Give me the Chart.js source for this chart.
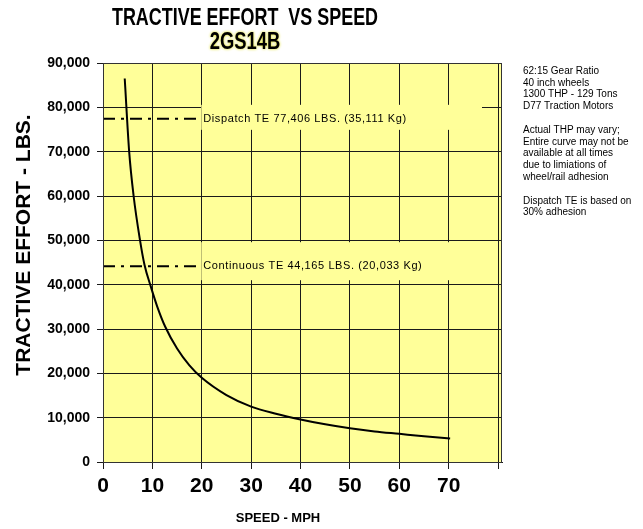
<!DOCTYPE html>
<html>
<head>
<meta charset="utf-8">
<script src="https://cdn.jsdelivr.net/npm/chart.js@4/dist/chart.umd.min.js"></script>
<style>
  html, body { margin: 0; padding: 0; background: #fff; }
  #chart { display: block; }
</style>
</head>
<body>
<canvas id="chart" width="643" height="529"></canvas>
<script>
// Curve (speed in mph, tractive effort in lbs)
const speedMph = [4.4, 5.3, 6.2, 7.5, 8.4, 9.7, 11, 12.6, 15, 17.5, 20, 25, 30, 35, 40, 45, 50, 55, 60, 65, 70.3];
const tractiveLbs = [86500, 70000, 60000, 50000, 44500, 39500, 35000, 30500, 25600, 21800, 19000, 15100, 12500, 10900, 9600, 8500, 7600, 6900, 6350, 5800, 5300];

// Reference levels
const refLevels = [77406, 44165];
const refLabels = ['Dispatch TE 77,406 LBS. (35,111 Kg)', 'Continuous TE 44,165 LBS. (20,033 Kg)'];
const refLineSpan = [0, 19.7];

// Axis ticks
const xTicks = [0, 10, 20, 30, 40, 50, 60, 70, 80];
const yStep = 10000;

const titleMain = 'TRACTIVE EFFORT  VS SPEED';
const titleSub = '2GS14B';
const yTitle = 'TRACTIVE EFFORT - LBS.';
const xTitle = 'SPEED - MPH';
const notes = [
    '62:15 Gear Ratio', '40 inch wheels', '1300 THP - 129 Tons', 'D77 Traction Motors', '',
    'Actual THP may vary;', 'Entire curve may not be', 'available at all times', 'due to limiations of', 'wheel/rail adhesion', '',
    'Dispatch TE is based on', '30% adhesion'
];

const FONT = '"Liberation Sans", Arial, sans-serif';
const GRID = '#1a1a1a';
const PLOT_BG = '#ffff99';

// label boxes hide the grid behind the reference labels (top/bottom offsets from the line)
const boxOffsets = [[-14, 11], [-24, 14]];

const decor = {
    id: 'decor',
    beforeDraw(chart) {
        const { ctx, chartArea: a } = chart;
        ctx.save();
        ctx.fillStyle = PLOT_BG;
        ctx.fillRect(a.left, a.top, a.right - a.left, a.bottom - a.top);
        ctx.restore();
    },
    beforeDatasetsDraw(chart) {
        const { ctx, scales } = chart;
        ctx.save();
        ctx.fillStyle = PLOT_BG;
        refLevels.forEach((lv, i) => {
            const y = scales.y.getPixelForValue(lv);
            const x0 = scales.x.getPixelForValue(refLineSpan[1]) + 1;
            ctx.fillRect(x0, y + boxOffsets[i][0], 482 - x0, boxOffsets[i][1] - boxOffsets[i][0]);
        });
        ctx.restore();
    },
    afterDatasetsDraw(chart) {
        const { ctx, scales } = chart;
        ctx.save();
        ctx.fillStyle = '#000';
        ctx.font = '11px ' + FONT;
        ctx.letterSpacing = '0.6px';
        ctx.textBaseline = 'middle';
        refLevels.forEach((lv, i) => {
            const y = scales.y.getPixelForValue(lv);
            const x = scales.x.getPixelForValue(refLineSpan[1]) + 3;
            ctx.fillText(refLabels[i], x, y);
        });
        ctx.restore();
    },
    afterDraw(chart) {
        const { ctx, chartArea: a } = chart;
        ctx.save();
        // plot frame
        ctx.strokeStyle = '#333';
        ctx.lineWidth = 1;
        ctx.strokeRect(a.left + 0.5, a.top + 0.5, a.right - a.left - 1, a.bottom - a.top);

        // main title (condensed bold)
        ctx.fillStyle = '#000';
        ctx.textAlign = 'center';
        ctx.textBaseline = 'middle';
        ctx.font = 'bold 23px ' + FONT;
        ctx.save();
        ctx.translate(245, 19);
        ctx.scale(0.78, 1);
        ctx.fillText(titleMain, 0, 0);
        ctx.restore();

        ctx.save();
        ctx.translate(245, 43);
        ctx.scale(0.8, 1);
        ctx.shadowColor = '#d8d800';
        ctx.shadowBlur = 3;
        ctx.fillText(titleSub, 0, 0);
        ctx.restore();

        // y axis title
        ctx.save();
        ctx.translate(24, 245);
        ctx.rotate(-Math.PI / 2);
        ctx.font = 'bold 21px ' + FONT;
        ctx.fillText(yTitle, 0, 0);
        ctx.restore();

        // x axis title
        ctx.font = 'bold 13px ' + FONT;
        ctx.fillText(xTitle, 278, 518);

        // side notes
        ctx.textAlign = 'left';
        ctx.font = '10px ' + FONT;
        notes.forEach((t, i) => {
            if (t) ctx.fillText(t, 523, 71 + i * 11.8);
        });
        ctx.restore();
    }
};

const datasets = [{
    label: 'Tractive effort',
    data: speedMph.map((s, i) => ({ x: s, y: tractiveLbs[i] })),
    borderColor: '#000',
    borderWidth: 2,
    pointRadius: 0,
    cubicInterpolationMode: 'monotone',
    fill: false
}];
refLevels.forEach(lv => {
    datasets.push({
        label: 'ref ' + lv,
        data: refLineSpan.map(s => ({ x: s, y: lv })),
        borderColor: '#000',
        borderWidth: 2,
        borderDash: [12, 6, 3, 6],
        pointRadius: 0,
        fill: false
    });
});

new Chart(document.getElementById('chart').getContext('2d'), {
    type: 'line',
    data: { datasets },
    options: {
        responsive: false,
        animation: false,
        devicePixelRatio: 1,
        layout: { padding: { top: 63, right: 141, left: 0, bottom: 0 } },
        plugins: { legend: { display: false }, title: { display: false }, tooltip: { enabled: false } },
        scales: {
            x: {
                type: 'linear',
                min: 0,
                max: 80.8,
                afterBuildTicks: axis => { axis.ticks = xTicks.map(v => ({ value: v })); },
                afterFit: scale => { scale.height = 67; },
                ticks: {
                    callback: v => (v < 80 ? v : ''),
                    font: { family: FONT, size: 21, weight: 'bold' },
                    color: '#000',
                    padding: 5,
                    maxRotation: 0,
                    autoSkip: false
                },
                grid: { color: GRID, lineWidth: 1, tickLength: 7 },
                border: { color: GRID }
            },
            y: {
                min: 0,
                max: 90000,
                afterFit: scale => { scale.width = 103; },
                ticks: {
                    stepSize: yStep,
                    callback: v => v.toLocaleString('en-US'),
                    font: { family: FONT, size: 14, weight: 'bold' },
                    color: '#000',
                    padding: 7
                },
                grid: { color: GRID, lineWidth: 1, tickLength: 6 },
                border: { color: GRID }
            }
        }
    },
    plugins: [decor]
});
</script>
</body>
</html>
